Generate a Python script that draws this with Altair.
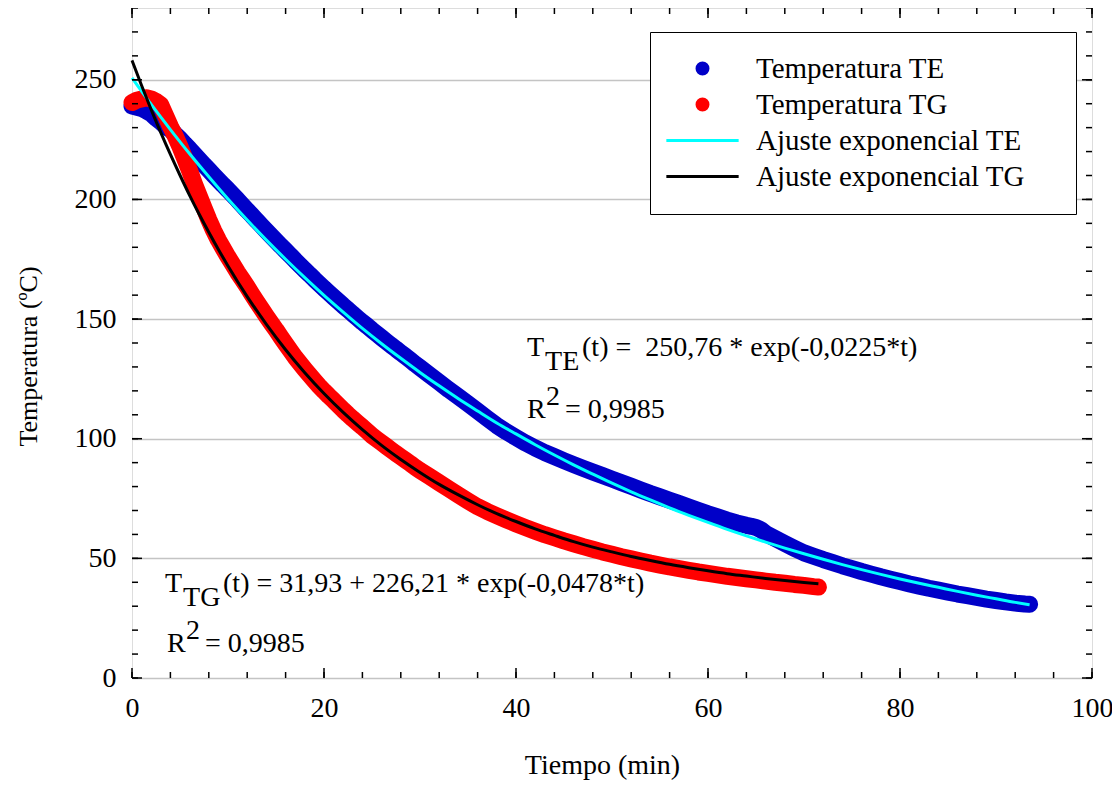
import altair as alt
import pandas as pd

# ---------------- data ----------------
series_names = ["Temperatura TE", "Temperatura TG",
                "Ajuste exponencial TE", "Ajuste exponencial TG"]
series_colors = ["#0000c8", "#ff0000", "#00ffff", "#000000"]

te_time = [0, 0.5, 1, 1.5, 2, 2.5, 3, 3.5, 4, 4.5, 5, 5.5, 6, 6.5, 7, 7.5, 8, 8.5, 9, 9.5,
           10, 10.5, 11, 11.5, 12, 12.5, 13, 13.5, 14, 14.5, 15, 15.5, 16, 16.5, 17, 17.5,
           18, 18.5, 19, 19.5, 20, 20.5, 21, 21.5, 22, 22.5, 23, 23.5, 24, 24.5, 25, 25.5,
           26, 26.5, 27, 27.5, 28, 28.5, 29, 29.5, 30,
           31, 32, 33, 34, 35, 36, 37, 38, 39, 40, 41, 42, 43, 44, 45, 46, 47, 48, 49, 50,
           51, 52, 53, 54, 55, 56, 57, 58, 59, 60, 61, 62, 63, 64, 64.5, 65, 65.5,
           66, 67, 68, 69, 70, 71, 72, 73, 74, 75, 76, 77, 78, 79, 80, 81, 82, 83, 84, 85,
           86, 87, 88, 89, 90, 91, 92, 93, 93.5]
te_temp = [239, 238.5, 238, 237, 235.8, 234, 232.4, 230.5, 229.2, 227.2, 225.3, 223.1, 221,
           218.8, 216.6, 214.4, 212.3, 210.2, 208.1, 206, 204, 201.9, 199.8, 197.6, 195.4,
           193.3, 191.1, 189, 186.9, 184.8, 182.7, 180.6, 178.6, 176.6, 174.5, 172.5, 170.5,
           168.6, 166.6, 164.7, 162.8, 161, 159.2, 157.4, 155.6, 153.9, 152.1, 150.4, 148.7,
           147.1, 145.4, 143.8, 142.2, 140.6, 139, 137.5, 135.9, 134.4, 132.8, 131.2, 129.7,
           126.6, 123.6, 120.5, 117.6, 114.6, 111.6, 108.5, 105.5, 102.9, 100.5, 98.2, 96.1,
           94.2, 92.5, 90.8, 89.2, 87.6, 86.1, 84.6, 83.1, 81.6, 80.1, 78.6, 77.1, 75.7, 74.3,
           72.9, 71.5, 70.0, 68.6, 67.3, 66.0, 64.8, 63.8, 63.4, 62.9, 62.0,
           60.4, 58.3, 56.2, 54.2, 52.3, 50.9, 49.5, 48.2, 46.9, 45.7, 44.5, 43.4, 42.3, 41.3,
           40.3, 39.3, 38.4, 37.5, 36.7, 35.9, 35.1, 34.4, 33.7, 33.0, 32.4, 31.8, 31.3, 30.9,
           30.8]

tg_time = [0, 0.5, 1, 1.5, 2, 2.5, 3, 3.5, 4, 4.5, 5, 5.5, 6, 6.5, 7, 7.5, 8, 8.5, 9, 9.5,
           10, 10.5, 11, 11.5, 12, 12.5, 13, 13.5, 14, 14.5, 15, 15.5, 16, 16.5, 17, 17.5,
           18, 18.5, 19, 19.5, 20, 20.5, 21, 21.5, 22, 22.5, 23, 23.5, 24, 24.5, 25, 25.5,
           26, 26.5, 27, 27.5, 28, 28.5, 29, 29.5, 30,
           31, 32, 33, 34, 35, 36, 37, 38, 39, 40, 41, 42, 43, 44, 45, 46, 47, 48, 49, 50,
           51, 52, 53, 54, 55, 56, 57, 58, 59, 60, 61, 62, 63, 64, 65, 66, 67, 68, 69, 70,
           71, 71.5]
tg_temp = [240.5, 241.5, 242, 242.5, 242, 241, 239.5, 235, 230.5, 226.5, 222, 217, 212,
           206.5, 201.5, 196.5, 191.5, 187, 183, 179.5, 176, 172.8, 169.5, 166.5, 163.5,
           160.3, 157.2, 154.2, 151.2, 148.3, 145.5, 142.5, 139.6, 136.8, 134, 131.5, 129,
           126.6, 124.3, 122, 119.9, 117.9, 116, 114, 112, 110.1, 108.3, 106.6, 104.9, 103.1,
           101.3, 99.8, 98.3, 96.8, 95.3, 93.8, 92.4, 91.0, 89.6, 88.1, 86.7,
           84.2, 81.6, 79.0, 76.5, 74.0, 71.6, 69.6, 67.8, 66.1, 64.4, 62.8, 61.3, 59.9, 58.6,
           57.3, 56.1, 54.9, 53.8, 52.7, 51.7, 50.7, 49.8, 48.9, 48.0, 47.2, 46.4, 45.7, 45.0,
           44.3, 43.7, 43.1, 42.5, 42.0, 41.5, 41.0, 40.5, 40.0, 39.6, 39.1, 38.7, 38.2, 38.0]

fit_te_time = [0, 2, 4, 6, 8, 10, 12, 14, 16, 18, 20, 22, 24, 26, 28, 30, 32, 34, 36, 38, 40,
               42, 44, 46, 48, 50, 52, 54, 56, 58, 60, 62, 64, 66, 68, 70, 72, 74, 76, 78, 80,
               82, 84, 86, 88, 90, 92, 93.5]
fit_te_temp = [250.8, 239.7, 229.2, 219.1, 209.5, 200.2, 191.4, 183.0, 175.0, 167.3, 159.9,
               152.9, 146.1, 139.7, 133.6, 127.7, 122.1, 116.7, 111.6, 106.6, 102.0, 97.5,
               93.2, 89.1, 85.2, 81.4, 77.8, 74.4, 71.1, 68.0, 65.0, 62.1, 59.4, 56.8, 54.3,
               51.9, 49.6, 47.4, 45.3, 43.3, 41.4, 39.6, 37.9, 36.2, 34.6, 33.1, 31.6, 30.6]

fit_tg_time = [0, 1, 2, 3, 4, 5, 6, 7, 8, 9, 10, 12, 14, 16, 18, 20, 22, 24, 26, 28, 30, 32,
               34, 36, 38, 40, 42, 44, 46, 48, 50, 52, 54, 56, 58, 60, 62, 64, 66, 68, 70, 71.5]
fit_tg_temp = [258.1, 247.6, 237.5, 227.9, 218.8, 210.1, 201.7, 193.8, 186.3, 179.1, 172.2,
               159.4, 147.8, 137.2, 127.6, 118.9, 111.0, 103.8, 97.2, 91.3, 85.9, 80.9, 76.5,
               72.4, 68.7, 65.4, 62.3, 59.6, 57.0, 54.7, 52.7, 50.8, 49.1, 47.5, 46.1, 44.8,
               43.6, 42.6, 41.6, 40.7, 39.9, 39.4]

x_major_ticks = [0, 20, 40, 60, 80, 100]
x_minor_ticks = [0, 4, 8, 12, 16, 20, 24, 28, 32, 36, 40, 44, 48, 52, 56, 60, 64, 68, 72,
                 76, 80, 84, 88, 92, 96, 100]
y_major_ticks = [0, 50, 100, 150, 200, 250]
y_minor_ticks = [0, 10, 20, 30, 40, 50, 60, 70, 80, 90, 100, 110, 120, 130, 140, 150, 160,
                 170, 180, 190, 200, 210, 220, 230, 240, 250, 260, 270, 280]

eq_te_main = "(t) =\u00a0 250,76 * exp(-0,0225*t)"
eq_tg_main = "(t) = 31,93 + 226,21 * exp(-0,0478*t)"
r2_text = "= 0,9985"

# ---------------- layout ----------------
W, H = 960, 670
FONT = "Liberation Serif"

pts_te = pd.DataFrame({"t": te_time, "T": te_temp, "serie": series_names[0]})
pts_tg = pd.DataFrame({"t": tg_time, "T": tg_temp, "serie": series_names[1]})
fit_te = pd.DataFrame({"t": fit_te_time, "T": fit_te_temp, "serie": series_names[2]})
fit_tg = pd.DataFrame({"t": fit_tg_time, "T": fit_tg_temp, "serie": series_names[3]})

x_enc = alt.X("t:Q", scale=alt.Scale(domain=[0, 100], nice=False, zero=False),
              axis=alt.Axis(values=x_major_ticks, title="Tiempo (min)", grid=False,
                            ticks=False, domain=False, labelPadding=16,
                            labelFont=FONT, labelFontSize=28, labelColor="black",
                            labelFlush=False, titleFont=FONT, titleFontSize=28,
                            titleFontWeight="normal", titleColor="black",
                            titleX=470, titleY=87, titleBaseline="middle"))
y_enc = alt.Y("T:Q", scale=alt.Scale(domain=[0, 280], nice=False),
              axis=alt.Axis(values=y_major_ticks, title="Temperatura (ºC)", grid=True,
                            gridColor="#c4c4c4", gridWidth=1.5, ticks=False, domain=False,
                            labelPadding=16, labelFont=FONT, labelFontSize=28,
                            labelColor="black", labelFlush=False, titleFont=FONT,
                            titleFontSize=26, titleFontWeight="normal", titleColor="black",
                            titleX=-104, titleY=348, titleBaseline="middle",
                            titleAlign="center", titleAngle=270))

line_path = "M-6.6,0H6.6"
leg = alt.Legend(orient="none", legendX=518, legendY=24,
                 title=".", titleColor="white", titleFontSize=8, titleOrient="right",
                 titlePadding=26,
                 labelFont=FONT, labelFontSize=29, labelColor="black",
                 symbolSize=120, symbolStrokeWidth=3, symbolOffset=16, labelOffset=39,
                 rowPadding=6, padding=22, strokeColor="black", fillColor="white",
                 labelLimit=400)
fill_scale = alt.Scale(domain=series_names, range=series_colors)
shape_scale = alt.Scale(domain=series_names,
                        range=["circle", "circle", line_path, line_path])


def point_layer(df):
    return alt.Chart(df).mark_point(filled=True, size=190, opacity=1, strokeWidth=1).encode(
        x=x_enc, y=y_enc,
        fill=alt.Fill("serie:N", scale=fill_scale, legend=leg),
        stroke=alt.Stroke("serie:N", scale=fill_scale, legend=leg),
        shape=alt.Shape("serie:N", scale=shape_scale, legend=leg),
    )


def band_layer(df, color):
    return alt.Chart(df).mark_line(strokeWidth=17, strokeCap="round", strokeJoin="round",
                                   color=color).encode(x=x_enc, y=y_enc)


def fit_layer(df):
    return alt.Chart(df).mark_line(strokeWidth=3, interpolate="monotone").encode(
        x=x_enc, y=y_enc, stroke=alt.Stroke("serie:N", scale=fill_scale, legend=leg))


def xticks(vals, y0, y1):
    return alt.Chart(pd.DataFrame({"t": vals})).mark_rule(color="black", strokeWidth=1.5).encode(
        x=x_enc, y=alt.value(y0), y2=alt.value(y1))


def yticks(vals, x0, x1):
    return alt.Chart(pd.DataFrame({"T": vals})).mark_rule(color="black", strokeWidth=1.5).encode(
        y=y_enc, x=alt.value(x0), x2=alt.value(x1))


tick_layers = [
    xticks(x_minor_ticks, H, H - 6), xticks(x_major_ticks, H, H - 10),
    xticks(x_minor_ticks, 0, 6), xticks(x_major_ticks, 0, 10),
    yticks(y_minor_ticks, 0, 6), yticks(y_major_ticks, 0, 10),
    yticks(y_minor_ticks, W, W - 6), yticks(y_major_ticks, W, W - 10),
]


def txt(s, tx, ty, dx=0, dy=0):
    return alt.Chart(pd.DataFrame({"s": [s]})).mark_text(
        align="left", baseline="alphabetic", font=FONT, fontSize=28, color="black",
        dx=dx, dy=dy).encode(x=alt.datum(tx), y=alt.datum(ty), text="s:N")


texts = [
    txt("T", 41.15, 134.6), txt("TE", 41.15, 134.6, dx=18, dy=14),
    txt(eq_te_main, 41.15, 134.6, dx=55),
    txt("R", 41.15, 108.7), txt("2", 41.15, 108.7, dx=19, dy=-13),
    txt(r2_text, 41.15, 108.7, dx=38),
    txt("T", 3.44, 35.9), txt("TG", 3.44, 35.9, dx=18, dy=14),
    txt(eq_tg_main, 3.44, 35.9, dx=58),
    txt("R", 3.65, 10.9), txt("2", 3.65, 10.9, dx=19, dy=-13),
    txt(r2_text, 3.65, 10.9, dx=38),
]

chart = alt.layer(
    band_layer(pts_te, series_colors[0]), point_layer(pts_te),
    band_layer(pts_tg, series_colors[1]), point_layer(pts_tg),
    fit_layer(fit_te), fit_layer(fit_tg),
    *tick_layers, *texts
).properties(
    width=W, height=H,
    padding={"left": 124, "top": 0, "right": 20, "bottom": 106},
    autosize=alt.AutoSizeParams(type="none"),
).configure_view(stroke="black", strokeWidth=2).configure_legend(
    strokeWidth=1.5
).configure(background="white")

chart.save("out.html", embed_options={"renderer": "svg", "actions": False})
